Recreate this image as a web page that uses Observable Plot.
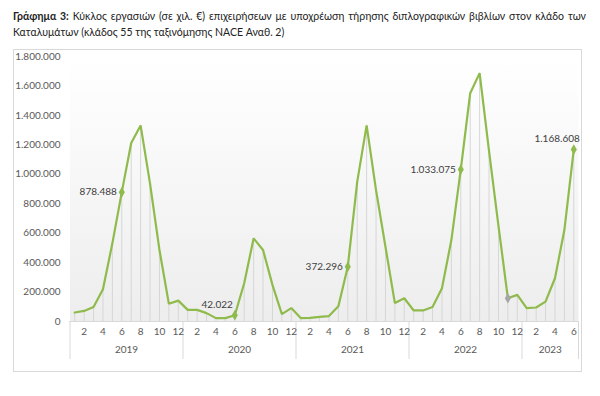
<!DOCTYPE html>
<html><head><meta charset="utf-8">
<script src="https://cdn.jsdelivr.net/npm/d3@7"></script>
<script src="https://cdn.jsdelivr.net/npm/@observablehq/plot@0.6"></script>
<style>
body{margin:0;background:#fff;font-family:Lato,sans-serif;}
#wrap{position:relative;width:600px;height:396px;overflow:hidden;}
#title{position:absolute;left:13px;top:8px;width:573px;font-size:10.5px;color:#222;line-height:16px;}
#l1{text-align:justify;text-align-last:justify;white-space:nowrap;}
#box{position:absolute;left:13px;top:49px;width:569px;height:323px;border:1px solid #d9d9d9;box-sizing:border-box;}
#chart{position:absolute;left:0;top:49px;}
</style></head><body>
<div id="wrap">
<div id="title"><div id="l1"><b>Γράφημα 3:</b> Κύκλος εργασιών (σε χιλ. €) επιχειρήσεων με υποχρέωση τήρησης διπλογραφικών βιβλίων στον κλάδο των</div><div>Καταλυμάτων (κλάδος 55 της ταξινόμησης NACE Αναθ. 2)</div></div>
<div id="box"></div>
<div id="chart"></div>
</div>
<script>
const years = [2019, 2020, 2021, 2022, 2023];
const values2019 = [61000, 72000, 98000, 219000, 531000, 878488, 1213000, 1332000, 937000, 486000, 120000, 142000];
const values2020 = [79000, 79000, 57000, 23000, 23000, 42022, 260000, 565000, 486000, 249000, 50000, 91000];
const values2021 = [23000, 25000, 32000, 37000, 104000, 372296, 948000, 1332000, 892000, 508000, 125000, 158000];
const values2022 = [75000, 75000, 98000, 226000, 553000, 1033075, 1551000, 1687000, 1158000, 650000, 158000, 181000];
const values2023 = [91000, 95000, 135000, 294000, 621000, 1168608];
const series = [values2019, values2020, values2021, values2022, values2023];
const yTicks = [0, 200000, 400000, 600000, 800000, 1000000, 1200000, 1400000, 1600000, 1800000];
const monthTickLabels = [2, 4, 6, 8, 10, 12];
const labelledPoints = [[2019, 6], [2020, 6], [2021, 6], [2022, 6], [2023, 6]];
const greyPoints = [[2022, 11]];

const data = [];
years.forEach((y, k) => series[k].forEach((v, m) => data.push({i: data.length, year: y, month: m + 1, value: v})));
const find = ([y, m]) => data.find(d => d.year === y && d.month === m);
const labelled = labelledPoints.map(find);
const greys = greyPoints.map(find);
const yearInfo = years.map(y => {
  const rows = data.filter(d => d.year === y);
  return {year: y, start: rows[0].i - 0.5, end: rows[rows.length - 1].i + 0.5, mid: (rows[0].i + rows[rows.length - 1].i) / 2};
});
const boundaries = [yearInfo[0].start, ...yearInfo.map(d => d.end)];
const fmt = d3.formatLocale({decimal: ",", thousands: ".", grouping: [3], currency: ["", "€"]}).format(",d");

const green = "#8fba4c";
const labelLeft = labelled.filter(d => d.year === 2019 || d.year === 2021 || d.year === 2022);
const labelAbove1 = labelled.filter(d => d.year === 2020);
const labelAbove2 = labelled.filter(d => d.year === 2023);

const chart = Plot.plot({
  width: 600, height: 323,
  marginLeft: 69.5, marginRight: 22, marginTop: 7, marginBottom: 51,
  x: {domain: [-0.5, data.length - 0.5], axis: null},
  y: {domain: [0, 1800000], axis: null},
  style: {fontFamily: "Lato, sans-serif", fontSize: "10px", background: "transparent", overflow: "visible"},
  marks: [
    Plot.frame({fill: "#f4f4f4", stroke: null}),
    Plot.ruleX(data, {x: "i", y1: 0, y2: "value", stroke: "#d6d6d6", strokeWidth: 1}),
    Plot.ruleY([0], {stroke: "#d9d9d9"}),
    Plot.ruleX(boundaries, {x: d => d, y1: 0, y2: 0, insetBottom: -38, stroke: "#d9d9d9"}),
    Plot.axisY({ticks: yTicks, tickFormat: fmt, tickSize: 0, tickPadding: 9.5, fill: "#595959", label: null}),
    Plot.text(data.filter(d => monthTickLabels.includes(d.month)), {x: "i", text: "month", frameAnchor: "bottom", dy: 13, fill: "#595959"}),
    Plot.text(yearInfo, {x: "mid", text: d => String(d.year), frameAnchor: "bottom", dy: 31, fill: "#595959"}),
    Plot.line(data, {x: "i", y: "value", stroke: green, strokeWidth: 2.2, strokeLinejoin: "miter"}),
    Plot.dot(labelled, {x: "i", y: "value", symbol: "diamond", r: 3.2, fill: green}),
    Plot.dot(greys, {x: "i", y: "value", symbol: "diamond", r: 3.2, fill: "#a6a6a6"}),
    Plot.text(labelLeft, {x: "i", y: "value", text: d => fmt(d.value), textAnchor: "end", dx: -5, fill: "#404040"}),
    Plot.text(labelAbove1, {x: "i", y: "value", text: d => fmt(d.value), textAnchor: "end", dx: -2, dy: -10.5, fill: "#404040"}),
    Plot.text(labelAbove2, {x: "i", y: "value", text: d => fmt(d.value), textAnchor: "end", dx: 6, dy: -11, fill: "#404040"})
  ]
});

// gradient background for the plot area
const ns = "http://www.w3.org/2000/svg";
const defs = document.createElementNS(ns, "defs");
defs.innerHTML = '<linearGradient id="bg" x1="0" y1="0" x2="0" y2="1"><stop offset="0" stop-color="#ffffff"/><stop offset="1" stop-color="#ededed"/></linearGradient>';
chart.insertBefore(defs, chart.firstChild);
const frameRect = chart.querySelector('[aria-label="frame"]');
if (frameRect) {
  const r = frameRect.tagName === "rect" ? frameRect : frameRect.querySelector("rect");
  if (r) r.setAttribute("fill", "url(#bg)");
}
document.getElementById("chart").appendChild(chart);
</script>
</body></html>
